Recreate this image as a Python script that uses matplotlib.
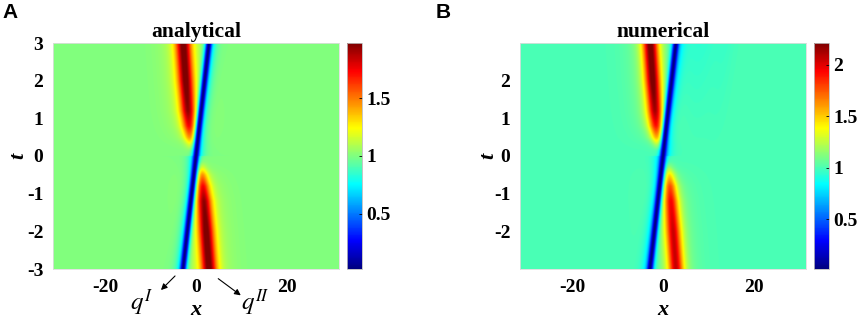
import numpy as np
import matplotlib
matplotlib.use("Agg")
import matplotlib.pyplot as plt
from matplotlib.colors import LinearSegmentedColormap

# ---------------- data ----------------
x_limits = [-31.4, 31.4]
t_limits = [-3.0, 3.0]

# dark (blue) soliton track
dark_t = [-3.0, 0.0, 3.0]
dark_x = [-2.85, 0.0, 2.85]
dark_depth = 0.98

# bright (red) ridge track, as function of |t|
ridge_abs_t = [0.0, 0.15, 0.3, 0.5, 0.8, 1.2, 2.0, 3.0]
ridge_x_upper = [-0.8, -0.95, -1.1, -1.3, -1.5, -1.75, -2.25, -2.8]
ridge_x_lower = [0.8, 0.95, 1.1, 1.3, 1.5, 1.75, 2.25, 2.85]
amp_A_upper = [0.0, 0.06, 0.2, 0.45, 0.7, 0.88, 0.96, 0.97]
amp_A_lower = [0.0, 0.06, 0.2, 0.45, 0.7, 0.88, 0.96, 0.97]
amp_B_upper = [0.0, 0.06, 0.24, 0.55, 0.85, 1.05, 1.17, 1.18]
amp_B_lower = [0.0, 0.06, 0.2, 0.45, 0.72, 0.88, 0.97, 0.98]

clim_A = [0.02, 1.98]
clim_B = [0.02, 2.21]
cbar_ticks_A = [0.5, 1.0, 1.5]
cbar_ticks_B = [0.5, 1.0, 1.5, 2.0]
cbar_labels_A = ["0.5", "1", "1.5"]
cbar_labels_B = ["0.5", "1", "1.5", "2"]
xticks = [-20, 0, 20]
yticks_A = [-3, -2, -1, 0, 1, 2, 3]
yticks_B = [-2, -1, 0, 1, 2]

# ---------------- field construction ----------------
x = np.linspace(x_limits[0], x_limits[1], 900)
t = np.linspace(t_limits[0], t_limits[1], 450)
X, T = np.meshgrid(x, t)


def sech2(u):
    return 1.0 / np.cosh(u) ** 2


def field(amp_upper, amp_lower, haze):
    xd = np.interp(T, dark_t, dark_x)
    at = np.abs(T)
    up = T > 0
    xr = np.where(up, np.interp(at, ridge_abs_t, ridge_x_upper),
                  np.interp(at, ridge_abs_t, ridge_x_lower))
    amp = np.where(up, np.interp(at, ridge_abs_t, amp_upper),
                   np.interp(at, ridge_abs_t, amp_lower))
    width = 1.0 + 0.65 * np.clip(amp / 0.97, 0, 1)
    Z = 1.0 + amp * sech2((X - xr) / width) + 0.08 * amp * np.exp(-((X - xr) / 5.5) ** 2)
    side = np.sign(T)
    Z = Z - 0.12 * sech2((X - xd - side * 1.0) / 1.3)
    if haze:
        w = np.clip(T / 3.0, 0, 1)
        Z = Z - 0.06 * np.exp(-((X - xd - 5.0) / 4.5) ** 2) * w
        Z = Z - 0.025 * np.exp(-((X - xd - 11.0) / 2.0) ** 2) * w
    Z = Z * (1.0 - dark_depth * sech2((X - xd) / 0.7))
    return Z


Z_A = field(amp_A_upper, amp_A_lower, False)
Z_B = field(amp_B_upper, amp_B_lower, True)

# MATLAB-like jet
mjet = LinearSegmentedColormap.from_list(
    "mjet",
    [(0.0, (0, 0, 0.5)), (0.125, (0, 0, 1)), (0.375, (0, 1, 1)),
     (0.625, (1, 1, 0)), (0.875, (1, 0, 0)), (1.0, (0.5, 0, 0))], N=256)

serif = "Liberation Serif"
plt.rcParams["mathtext.fontset"] = "stix"
TICK_FS = 14

W, H = 858, 322
fig = plt.figure(figsize=(W / 100, H / 100), dpi=100)


def fr(px_l, px_t, px_w, px_h):
    return [px_l / W, 1 - (px_t + px_h) / H, px_w / W, px_h / H]


def panel(ax_rect, cb_rect, Z, clim, yt, cbt, cbl, title, ylab_px):
    ax = fig.add_axes(fr(*ax_rect))
    im = ax.imshow(Z, extent=[x_limits[0], x_limits[1], t_limits[0], t_limits[1]],
                   origin="lower", aspect="auto", cmap=mjet,
                   vmin=clim[0], vmax=clim[1], interpolation="bilinear")
    ax.set_xlim(x_limits)
    ax.set_ylim(t_limits)
    ax.set_xticks(xticks)
    ax.set_xticklabels([str(v) for v in xticks])
    ax.set_yticks(yt)
    ax.set_yticklabels([str(v) for v in yt])
    ax.tick_params(length=0, pad=7)
    for lab in ax.get_xticklabels() + ax.get_yticklabels():
        lab.set_fontfamily(serif)
        lab.set_fontweight("bold")
        lab.set_fontsize(TICK_FS)
    for s in ax.spines.values():
        s.set_color("#dddddd")
        s.set_linewidth(0.6)
    ax.set_title(title, fontfamily=serif, fontweight="bold", fontsize=15.5, pad=4)
    ax.set_xlabel("x", fontfamily=serif, fontstyle="italic", fontweight="bold",
                  fontsize=16)
    ax.xaxis.label.set_va("center")
    ax.xaxis.set_label_coords(0.5, -41 / 226)
    ax.set_ylabel("t", fontfamily=serif, fontstyle="italic", fontweight="bold",
                  fontsize=16)
    ax.yaxis.label.set_va("center")
    ax.yaxis.set_label_coords(-(ax_rect[0] - ylab_px) / ax_rect[2], 0.5)
    cax = fig.add_axes(fr(*cb_rect))
    cb = fig.colorbar(im, cax=cax)
    cb.set_ticks(cbt)
    cb.set_ticklabels(cbl)
    cax.tick_params(length=2, direction="in", pad=3, width=0.6)
    for lab in cax.get_yticklabels():
        lab.set_fontfamily(serif)
        lab.set_fontweight("bold")
        lab.set_fontsize(TICK_FS)
    cb.outline.set_edgecolor("#bbbbbb")
    cb.outline.set_linewidth(0.6)
    return ax


axA = panel((53, 43, 286, 226), (347, 43, 15, 226), Z_A, clim_A, yticks_A,
            cbar_ticks_A, cbar_labels_A, "analytical", 18)
axB = panel((520, 43, 286, 226), (814, 43, 15, 226), Z_B, clim_B, yticks_B,
            cbar_ticks_B, cbar_labels_B, "numerical", 488)

fig.text(2 / W, 1 - 3 / H, "A", fontfamily="Liberation Sans", fontweight="bold",
         fontsize=15, va="top", ha="left")
fig.text(436 / W, 1 - 3 / H, "B", fontfamily="Liberation Sans", fontweight="bold",
         fontsize=15, va="top", ha="left")

# q^I / q^II annotations in panel A (figure-pixel placement)
def fp(px, py):
    return (px / W, 1 - py / H)

fig.add_artist(matplotlib.patches.FancyArrowPatch(
    fp(177, 274), fp(159, 292), transform=fig.transFigure,
    arrowstyle="-|>", mutation_scale=9, lw=0.8, color="black"))
fig.add_artist(matplotlib.patches.FancyArrowPatch(
    fp(216, 277), fp(243, 297), transform=fig.transFigure,
    arrowstyle="-|>", mutation_scale=9, lw=0.8, color="black"))
fig.text(*fp(141, 303), r"$q^{I}$", fontsize=18, ha="center", va="center")
fig.text(*fp(255, 303), r"$q^{II}$", fontsize=18, ha="center", va="center")

fig.savefig("out.png", dpi=100)
